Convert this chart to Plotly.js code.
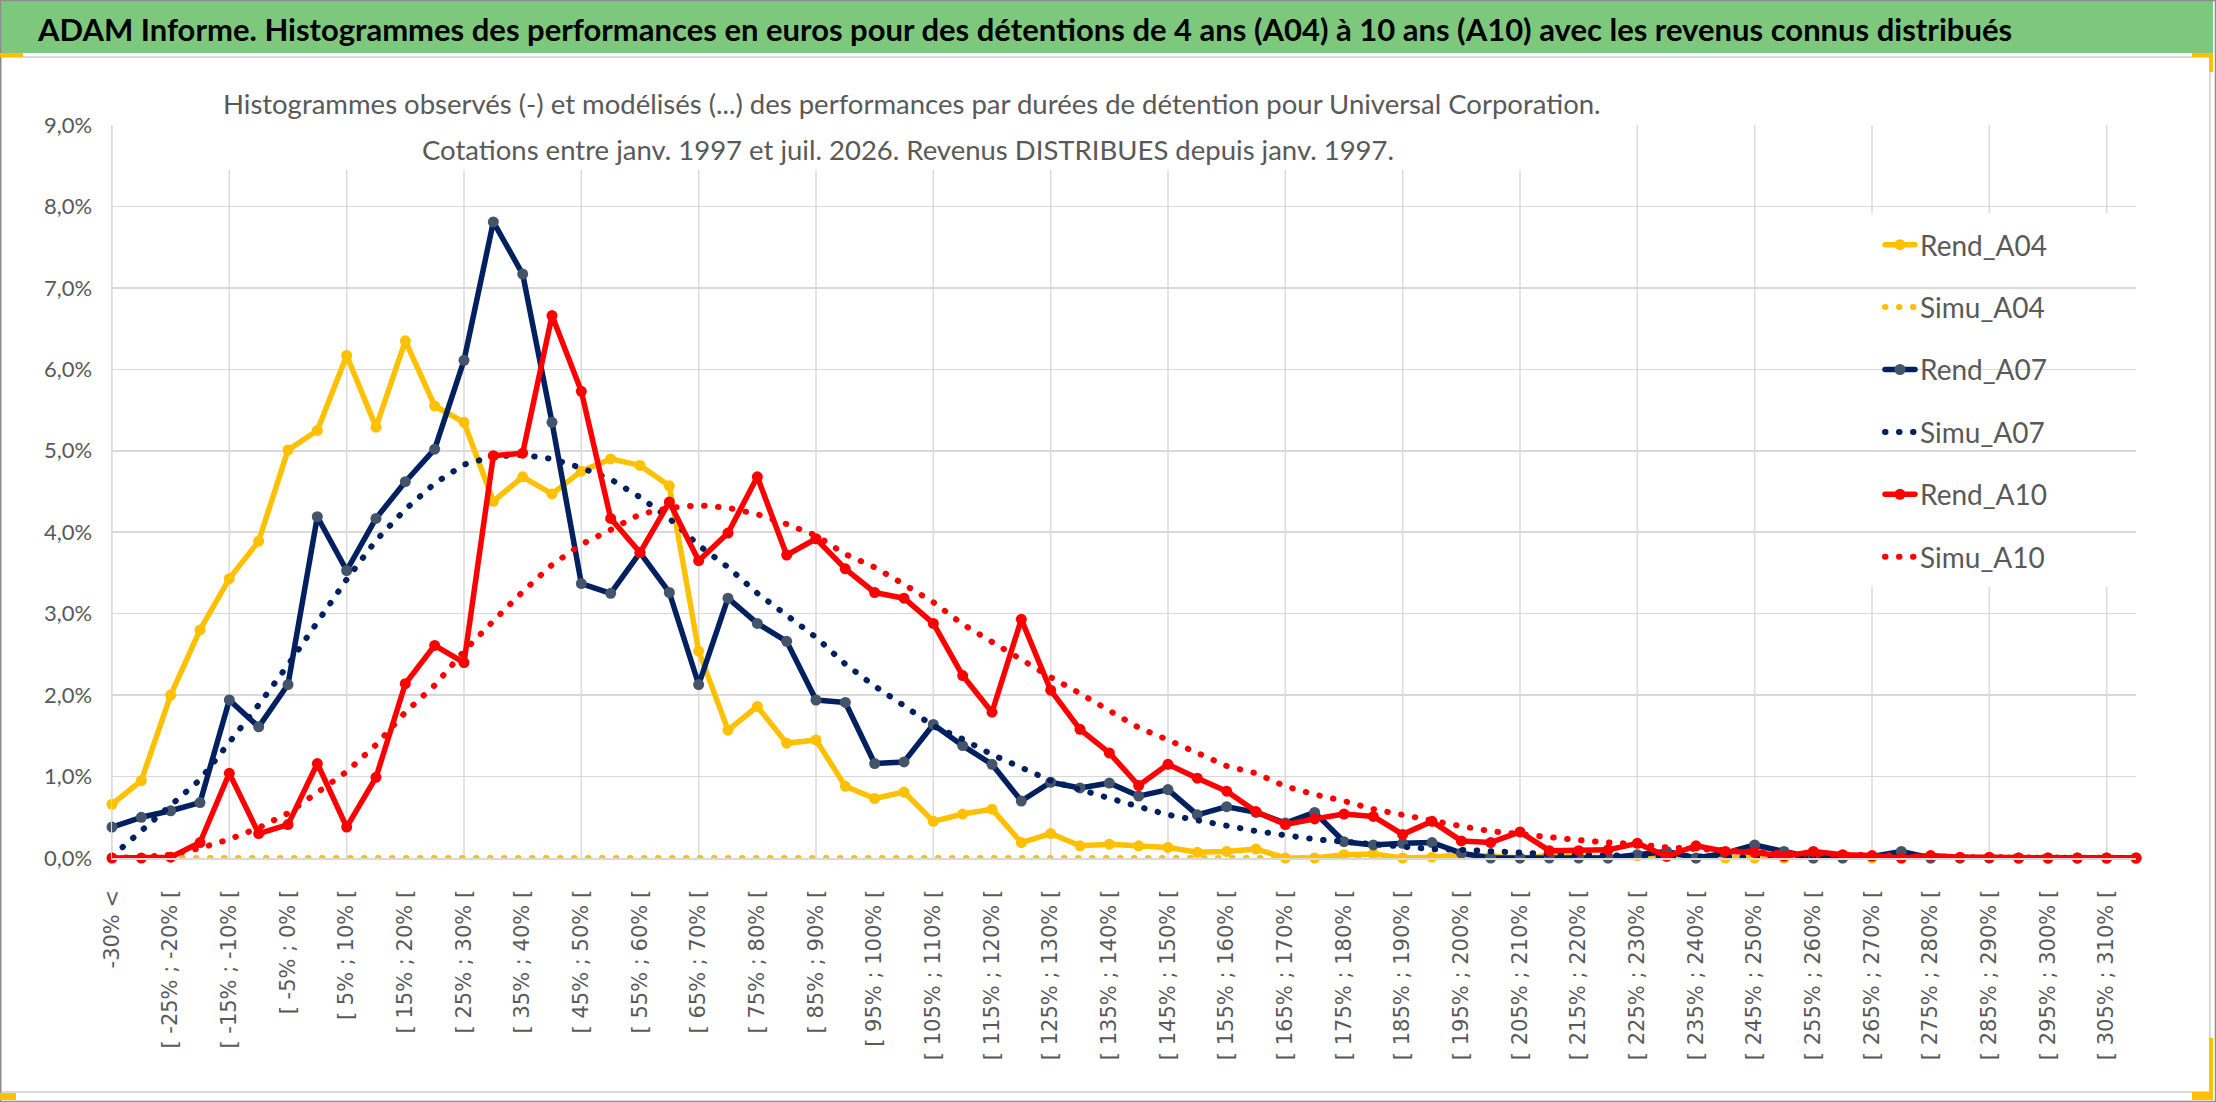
<!DOCTYPE html>
<html>
<head>
<meta charset="utf-8">
<script src="https://cdn.plot.ly/plotly-3.0.1.min.js"></script>
<style>
  body { margin: 0; background: #ffffff; }
  #chart { width: 2216px; height: 1102px; }
  path.js-line { stroke-linecap: round; stroke-linejoin: round; }
</style>
</head>
<body>
<div id="chart"></div>
<script>
// classes de performance (5 points chacune)
var categories = [
  "-30% <", "[ -30% ; -25% [", "[ -25% ; -20% [", "[ -20% ; -15% [", "[ -15% ; -10% [",
  "[ -10% ; -5% [", "[ -5% ; 0% [", "[ 0% ; 5% [", "[ 5% ; 10% [", "[ 10% ; 15% [",
  "[ 15% ; 20% [", "[ 20% ; 25% [", "[ 25% ; 30% [", "[ 30% ; 35% [", "[ 35% ; 40% [",
  "[ 40% ; 45% [", "[ 45% ; 50% [", "[ 50% ; 55% [", "[ 55% ; 60% [", "[ 60% ; 65% [",
  "[ 65% ; 70% [", "[ 70% ; 75% [", "[ 75% ; 80% [", "[ 80% ; 85% [", "[ 85% ; 90% [",
  "[ 90% ; 95% [", "[ 95% ; 100% [", "[ 100% ; 105% [", "[ 105% ; 110% [", "[ 110% ; 115% [",
  "[ 115% ; 120% [", "[ 120% ; 125% [", "[ 125% ; 130% [", "[ 130% ; 135% [", "[ 135% ; 140% [",
  "[ 140% ; 145% [", "[ 145% ; 150% [", "[ 150% ; 155% [", "[ 155% ; 160% [", "[ 160% ; 165% [",
  "[ 165% ; 170% [", "[ 170% ; 175% [", "[ 175% ; 180% [", "[ 180% ; 185% [", "[ 185% ; 190% [",
  "[ 190% ; 195% [", "[ 195% ; 200% [", "[ 200% ; 205% [", "[ 205% ; 210% [", "[ 210% ; 215% [",
  "[ 215% ; 220% [", "[ 220% ; 225% [", "[ 225% ; 230% [", "[ 230% ; 235% [", "[ 235% ; 240% [",
  "[ 240% ; 245% [", "[ 245% ; 250% [", "[ 250% ; 255% [", "[ 255% ; 260% [", "[ 260% ; 265% [",
  "[ 265% ; 270% [", "[ 270% ; 275% [", "[ 275% ; 280% [", "[ 280% ; 285% [", "[ 285% ; 290% [",
  "[ 290% ; 295% [", "[ 295% ; 300% [", "[ 300% ; 305% [", "[ 305% ; 310% [", "> 310%"
];

// frequences en %
var rendA04 = [
  0.66, 0.95, 2.00, 2.80, 3.43, 3.89, 5.01, 5.25, 6.17, 5.29,
  6.35, 5.55, 5.35, 4.38, 4.68, 4.47, 4.75, 4.90, 4.82, 4.57,
  2.54, 1.57, 1.86, 1.41, 1.45, 0.88, 0.73, 0.81, 0.45, 0.54,
  0.60, 0.19, 0.30, 0.15, 0.17, 0.15, 0.13, 0.07, 0.08, 0.11,
  0.00, 0.00, 0.04, 0.05, 0.00, 0.01, 0.04, 0.02, 0.00, 0.03,
  0.02, 0.00, 0.03, 0.02, 0.00, 0.00, 0.00, 0.00, 0.00, 0.00,
  0.00, 0.00, 0.00, 0.00, 0.00, 0.00, 0.00, 0.00, 0.00, 0.00
];
var simuA04 = [
  0, 0, 0, 0, 0, 0, 0, 0, 0, 0,
  0, 0, 0, 0, 0, 0, 0, 0, 0, 0,
  0, 0, 0, 0, 0, 0, 0, 0, 0, 0,
  0, 0, 0, 0, 0, 0, 0, 0, 0, 0,
  0, 0, 0, 0, 0, 0, 0, 0, 0, 0,
  0, 0, 0, 0, 0, 0, 0, 0, 0, 0,
  0, 0, 0, 0, 0, 0, 0, 0, 0, 0
];
var rendA07 = [
  0.38, 0.50, 0.58, 0.68, 1.94, 1.61, 2.13, 4.19, 3.53, 4.17,
  4.62, 5.02, 6.11, 7.81, 7.17, 5.35, 3.37, 3.25, 3.75, 3.26,
  2.13, 3.19, 2.88, 2.66, 1.94, 1.91, 1.16, 1.18, 1.64, 1.38,
  1.15, 0.70, 0.93, 0.86, 0.92, 0.76, 0.84, 0.53, 0.63, 0.56,
  0.43, 0.56, 0.20, 0.16, 0.18, 0.19, 0.06, 0.00, 0.00, 0.00,
  0.00, 0.00, 0.04, 0.08, 0.00, 0.06, 0.16, 0.08, 0.00, 0.00,
  0.02, 0.08, 0.00, 0.00, 0.00, 0.00, 0.00, 0.00, 0.00, 0.00
];
var simuA07 = [
  0.02, 0.34, 0.64, 0.96, 1.42, 1.88, 2.37, 2.90, 3.42, 3.90,
  4.28, 4.60, 4.83, 4.93, 4.95, 4.90, 4.79, 4.65, 4.43, 4.17,
  3.84, 3.57, 3.25, 2.98, 2.71, 2.38, 2.11, 1.87, 1.62, 1.46,
  1.27, 1.11, 0.95, 0.84, 0.73, 0.63, 0.53, 0.46, 0.39, 0.33,
  0.28, 0.23, 0.20, 0.17, 0.14, 0.11, 0.10, 0.08, 0.07, 0.05,
  0.04, 0.03, 0.03, 0.02, 0.02, 0.01, 0.01, 0.01, 0.01, 0.00,
  0.00, 0.00, 0.00, 0.00, 0.00, 0.00, 0.00, 0.00, 0.00, 0.00
];
var rendA10 = [
  0.00, 0.00, 0.01, 0.19, 1.04, 0.30, 0.41, 1.16, 0.38, 0.99,
  2.14, 2.61, 2.40, 4.94, 4.97, 6.66, 5.73, 4.17, 3.75, 4.37,
  3.65, 3.99, 4.68, 3.72, 3.92, 3.55, 3.26, 3.19, 2.88, 2.24,
  1.79, 2.93, 2.06, 1.58, 1.29, 0.89, 1.15, 0.98, 0.82, 0.57,
  0.41, 0.48, 0.54, 0.51, 0.29, 0.45, 0.21, 0.19, 0.32, 0.09,
  0.09, 0.10, 0.18, 0.02, 0.15, 0.08, 0.07, 0.02, 0.08, 0.04,
  0.03, 0.00, 0.03, 0.01, 0.01, 0.00, 0.00, 0.00, 0.00, 0.00
];
var simuA10 = [
  0.00, 0.01, 0.04, 0.12, 0.23, 0.37, 0.55, 0.81, 1.06, 1.39,
  1.79, 2.12, 2.54, 2.91, 3.27, 3.60, 3.85, 4.03, 4.22, 4.30,
  4.33, 4.30, 4.22, 4.10, 3.96, 3.73, 3.57, 3.36, 3.14, 2.87,
  2.65, 2.44, 2.22, 2.02, 1.80, 1.60, 1.45, 1.29, 1.13, 1.04,
  0.88, 0.78, 0.70, 0.60, 0.53, 0.45, 0.39, 0.33, 0.29, 0.26,
  0.22, 0.19, 0.17, 0.13, 0.11, 0.09, 0.07, 0.06, 0.05, 0.04,
  0.03, 0.02, 0.02, 0.01, 0.01, 0.01, 0.01, 0.00, 0.00, 0.00
];

var grey = "#595959";
var gridGrey = "#d9d9d9";

var idx = categories.map(function (c, i) { return i; });
function pct(arr) { return arr.map(function (v) { return v / 100; }); }

// une etiquette sur deux, une grille verticale sur quatre
var labelVals = idx.filter(function (i) { return i % 2 === 0 && i < 69; });
var labelText = labelVals.map(function (i) { return categories[i]; });
var gridVals = idx.filter(function (i) { return i % 4 === 0; });

function rend(name, y, color, markerColor) {
  return {
    x: idx, y: pct(y), name: name, type: "scatter", mode: "lines+markers",
    legendgroup: name, cliponaxis: false,
    line: { color: color, width: 5.5 },
    marker: { color: markerColor, size: 11 }
  };
}
function simu(name, y, color) {
  return {
    x: idx, y: pct(y), name: name, type: "scatter", mode: "lines",
    legendgroup: name, cliponaxis: false,
    line: { color: color, width: 6, dash: "0.5px,13.5px" }
  };
}

var data = [
  rend("Rend_A04", rendA04, "#ffc000", "#ffc000"),
  simu("Simu_A04", simuA04, "#ffc000"),
  rend("Rend_A07", rendA07, "#002060", "#44546a"),
  simu("Simu_A07", simuA07, "#002060"),
  rend("Rend_A10", rendA10, "#ff0000", "#ff0000"),
  simu("Simu_A10", simuA10, "#ff0000")
];

// conversion pixels de la page -> coordonnees "paper"
var L = 112, R = 2136, T = 125, B = 858;
function px(x) { return (x - L) / (R - L); }
function py(y) { return (B - y) / (B - T); }

function box(x0, y0, x1, y1, fill, line, layer) {
  return {
    type: "rect", xref: "paper", yref: "paper",
    x0: px(x0), x1: px(x1), y0: py(y0), y1: py(y1),
    fillcolor: fill, line: line || { width: 0 }, layer: layer || "below"
  };
}

// grille verticale
var shapes = gridVals.map(function (v) {
  return {
    type: "line", xref: "x", yref: "paper", x0: v, x1: v, y0: 0, y1: 1,
    line: { color: gridGrey, width: 1.5 }, layer: "below"
  };
});

shapes = shapes.concat([
  box(0, 0, 2213, 53, "#7ec87e"),
  box(1, 57, 2210, 1092, "rgba(0,0,0,0)", { color: gridGrey, width: 2 }),
  box(0.5, 0.5, 2215.5, 1101.5, "rgba(0,0,0,0)", { color: "#8c8c8c", width: 1.5 }),
  // caches blancs derriere le titre et la legende
  box(212, 118, 1618, 170, "#ffffff", null, "between"),
  box(1780, 213, 2112, 587, "#ffffff", null, "between"),
  // poignees jaunes de selection
  box(0, 53, 23, 57, "#ffc000"),
  box(2192, 53, 2213, 57, "#ffc000"),
  box(2209, 53, 2213, 72, "#ffc000"),
  box(0, 1093, 16, 1100, "#ffc000"),
  box(2192, 1092, 2213, 1100, "#ffc000"),
  box(2209, 1038, 2213, 1100, "#ffc000")
]);

var annotations = [
  {
    text: "ADAM Informe. Histogrammes des performances en euros pour des détentions de 4 ans (A04) à 10 ans (A10) avec les revenus connus distribués",
    xref: "paper", yref: "paper", x: px(35), y: py(29), xanchor: "left", yanchor: "middle",
    showarrow: false, font: { family: "Lato", size: 31, color: "#000000", weight: "bold" }
  },
  {
    text: "Histogrammes observés (-) et modélisés (...) des performances par durées de détention pour Universal Corporation.",
    xref: "paper", yref: "paper", x: px(912), y: py(103), xanchor: "center", yanchor: "middle",
    showarrow: false, font: { family: "Lato", size: 27.5, color: grey }
  },
  {
    text: "Cotations entre janv. 1997 et juil. 2026. Revenus DISTRIBUES depuis janv. 1997.",
    xref: "paper", yref: "paper", x: px(908), y: py(149), xanchor: "center", yanchor: "middle",
    showarrow: false, font: { family: "Lato", size: 27.5, color: grey }
  }
];

var layout = {
  width: 2216, height: 1102,
  margin: { l: L, r: 2216 - R, t: T, b: 1102 - B },
  paper_bgcolor: "#ffffff", plot_bgcolor: "#ffffff",
  separators: ", ",
  showlegend: true,
  legend: {
    x: px(1880), y: py(220), xanchor: "left", yanchor: "top",
    bgcolor: "rgba(0,0,0,0)", tracegroupgap: 23,
    font: { family: "Lato", size: 28, color: grey }
  },
  xaxis: {
    range: [0, 69], showgrid: false, zeroline: false,
    showline: true, linecolor: gridGrey, linewidth: 1.5,
    tickmode: "array", tickvals: labelVals, ticktext: labelText,
    tickangle: -90, ticks: "", ticklabelstandoff: 22,
    tickfont: { family: "DejaVu Sans", size: 21, color: grey }
  },
  yaxis: {
    range: [0, 0.09], dtick: 0.01, tickformat: ".1%",
    showgrid: true, gridcolor: gridGrey, gridwidth: 1.5, zeroline: false,
    showline: true, linecolor: gridGrey, linewidth: 1.5,
    ticks: "", ticklabelstandoff: 14,
    tickfont: { family: "Lato", size: 22, color: grey }
  },
  shapes: shapes,
  annotations: annotations
};

Plotly.newPlot("chart", data, layout, { staticPlot: true });
</script>
</body>
</html>
